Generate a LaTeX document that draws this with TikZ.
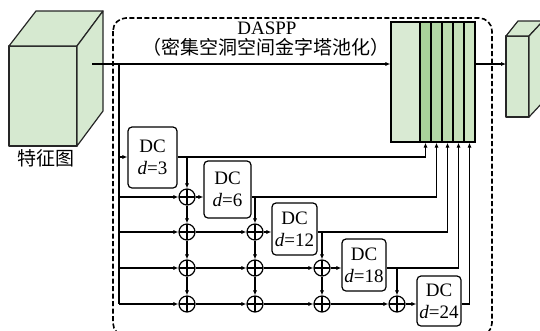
\documentclass[tikz,border=0pt]{standalone}
\usepackage{fontspec}
\setmainfont{Liberation Serif}
\newfontfamily\cjk{Noto Sans CJK SC}
\usetikzlibrary{arrows.meta,calc}
\definecolor{cubegreen}{HTML}{D6E9D0}
\definecolor{catgreen}{HTML}{D9EAD3}
\definecolor{sa}{HTML}{A9D29A}
\definecolor{sb}{HTML}{B3D7A5}
\definecolor{sc}{HTML}{BCDCAF}
\definecolor{sd}{HTML}{C5E1B9}
\definecolor{se}{HTML}{CEE6C3}
\tikzset{
  conn/.style={line width=1.25pt,draw=black},
  arr/.style={conn,-{Latex[length=5pt,width=4.2pt]}},
  cube/.style={line width=1.2pt,draw=black!85,fill=cubegreen,line join=round},
  dcbox/.style={draw,line width=1.2pt,rounded corners=4pt,fill=white,align=center,
    font=\fontsize{19}{22}\selectfont,inner sep=0pt},
  adder/.style={circle,draw,line width=1.2pt,minimum size=16pt,inner sep=0pt,fill=white,
    path picture={\draw[line width=1.2pt] (path picture bounding box.north) -- (path picture bounding box.south)
      (path picture bounding box.west) -- (path picture bounding box.east);}},
  strip/.style={draw,line width=1.4pt,minimum width=11pt,minimum height=120pt,inner sep=0pt},
  lbl/.style={font=\fontsize{19}{22}\selectfont,inner sep=0pt}
}
\begin{document}
\begin{tikzpicture}[x=1pt,y=-1pt]
\useasboundingbox (0,0) rectangle (540,330);
% dashed module frame
\draw[line width=1.6pt,dash pattern=on 5pt off 2.5pt,rounded corners=13pt] (113,18) rectangle (492,336);
\node[lbl] (title) at (267,28) {DASPP};
\node[lbl] (subtitle) at (266,47) {\cjk （密集空洞空间金字塔池化）};
% input cube
\draw[cube] (9,46) rectangle (77,146);
\draw[cube] (9,46) -- (36,11) -- (103,11) -- (77,46) -- cycle;
\draw[cube] (77,46) -- (103,11) -- (103,111) -- (77,146) -- cycle;
\node[lbl] (inlabel) at (46,158) {\cjk 特征图};
\coordinate (fin) at (92,64);
% output cube
\draw[cube] (506,36) rectangle (529,117);
\draw[cube] (506,36) -- (518,21) -- (543,21) -- (529,36) -- cycle;
\draw[cube] (529,36) -- (543,21) -- (543,102) -- (529,117) -- cycle;
\coordinate (fout) at (506,64);
% concat block
\node[draw,line width=1.2pt,fill=catgreen,minimum width=29pt,minimum height=120pt,inner sep=0pt] (cat) at (405.5,82) {};
\node[strip,fill=sa] (s1) at (425.5,82) {};
\node[strip,fill=sb] (s2) at (436.5,82) {};
\node[strip,fill=sc] (s3) at (447.5,82) {};
\node[strip,fill=sd] (s4) at (458.5,82) {};
\node[strip,fill=se] (s5) at (469.5,82) {};
% DC boxes
\node[dcbox,minimum width=49pt,minimum height=61pt] (dc3) at (152.5,157.5) {DC\\\textit{d}=3};
\node[dcbox,minimum width=47pt,minimum height=57pt] (dc6) at (227.5,189.5) {DC\\\textit{d}=6};
\node[dcbox,minimum width=45pt,minimum height=52pt] (dc12) at (294.5,229) {DC\\\textit{d}=12};
\node[dcbox,minimum width=44pt,minimum height=52pt] (dc18) at (364,265) {DC\\\textit{d}=18};
\node[dcbox,minimum width=44pt,minimum height=50pt] (dc24) at (439,301) {DC\\\textit{d}=24};
% adders p{col}{row}
\node[adder] (p11) at (187,197) {};
\node[adder] (p12) at (187,232) {};
\node[adder] (p13) at (187,268) {};
\node[adder] (p14) at (187,304) {};
\node[adder] (p22) at (255,232) {};
\node[adder] (p23) at (255,268) {};
\node[adder] (p24) at (255,304) {};
\node[adder] (p33) at (322,268) {};
\node[adder] (p34) at (322,304) {};
\node[adder] (p44) at (397,304) {};
% bus
\coordinate (bt) at (119,64);
\coordinate (bb) at (119,304);
\coordinate (r0) at (119,157);
\draw[conn] (bt) -- (bb);
% main path and output
\draw[arr] (fin) -- (fin -| cat.west);
\draw[arr] (s5.east |- fin) -- (fout);
% row 0
\draw[arr] (r0) -- (r0 -| dc3.west);
% rows
\draw[arr] (bb |- p11) -- (p11);
\draw[arr] (p11) -- (p11 -| dc6.west);
\draw[arr] (bb |- p12) -- (p12);
\draw[arr] (p12) -- (p22);
\draw[arr] (p22) -- (p22 -| dc12.west);
\draw[arr] (bb |- p13) -- (p13);
\draw[arr] (p13) -- (p23);
\draw[arr] (p23) -- (p33);
\draw[arr] (p33) -- (p33 -| dc18.west);
\draw[arr] (bb) -- (p14);
\draw[arr] (p14) -- (p24);
\draw[arr] (p24) -- (p34);
\draw[arr] (p34) -- (p44);
\draw[arr] (p44) -- (p44 -| dc24.west);
% DC outputs to concat strips
\draw[arr] (dc3.east |- r0) -| (s1.south);
\draw[arr] (dc6.east |- p11) -| (s2.south);
\draw[arr] (dc12.east |- p22) -| (s3.south);
\draw[arr] (dc18.east |- p33) -| (s4.south);
\draw[arr] (dc24.east |- p44) -| (s5.south);
% columns
\draw[arr] (p11 |- r0) -- (p11);
\draw[arr] (p11) -- (p12);
\draw[arr] (p12) -- (p13);
\draw[arr] (p13) -- (p14);
\draw[arr] (p22 |- p11) -- (p22);
\draw[arr] (p22) -- (p23);
\draw[arr] (p23) -- (p24);
\draw[arr] (p33 |- p22) -- (p33);
\draw[arr] (p33) -- (p34);
\draw[arr] (p44 |- p33) -- (p44);
\end{tikzpicture}
\end{document}
